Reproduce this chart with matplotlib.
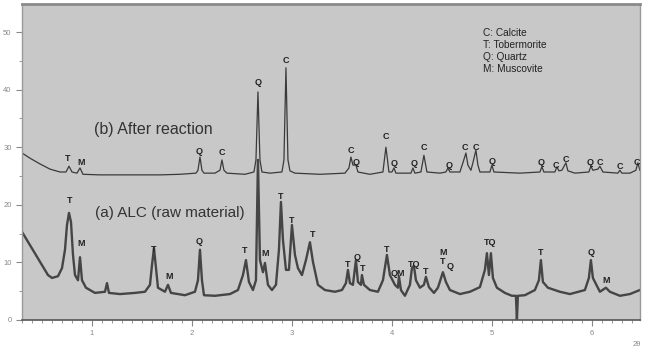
import matplotlib
matplotlib.use("Agg")
import matplotlib.pyplot as plt
from matplotlib.ticker import MultipleLocator

# ---- data ----
after_x = [0.30, 0.38, 0.48, 0.58, 0.68, 0.74, 0.77, 0.80, 0.85, 0.88, 0.91, 1.08, 1.38, 1.68, 1.88,
           2.04, 2.06, 2.08, 2.10, 2.12, 2.23, 2.28, 2.30, 2.32, 2.35, 2.53, 2.62, 2.64, 2.66, 2.68,
           2.70, 2.78, 2.90, 2.92, 2.94, 2.96, 2.98, 3.03, 3.28, 3.53, 3.57, 3.59, 3.61, 3.64, 3.66,
           3.78, 3.91, 3.93, 3.94, 3.95, 3.97, 4.00, 4.02, 4.04, 4.13, 4.19, 4.21, 4.23, 4.29, 4.32,
           4.35, 4.48, 4.54, 4.56, 4.58, 4.68, 4.71, 4.74, 4.76, 4.79, 4.81, 4.84, 4.86, 4.88, 4.98,
           5.00, 5.02, 5.28, 5.48, 5.50, 5.52, 5.63, 5.65, 5.67, 5.70, 5.74, 5.76, 5.83, 5.97, 5.99,
           6.01, 6.06, 6.08, 6.11, 6.26, 6.28, 6.30, 6.38, 6.44, 6.46, 6.48]
after_y = [29.0, 28.1, 27.1, 26.2, 25.7, 25.7, 26.7, 25.7, 25.5, 26.4, 25.3, 25.2, 25.2, 25.2, 25.3,
           25.5, 26.0, 28.3, 26.0, 25.5, 25.5, 26.0, 27.8, 26.0, 25.5, 25.3, 25.7, 27.8, 39.6, 27.8,
           25.7, 25.5, 25.7, 27.8, 43.8, 27.8, 25.9, 25.5, 25.3, 25.5, 26.4, 28.3, 26.9, 26.9, 25.7,
           25.3, 25.7, 28.6, 30.0, 28.6, 25.7, 25.7, 26.4, 25.5, 25.5, 25.5, 26.4, 25.5, 25.7, 28.6,
           25.7, 25.5, 25.7, 26.4, 25.7, 25.7, 27.3, 29.0, 26.9, 26.0, 27.3, 29.5, 26.9, 25.7, 25.7,
           26.9, 25.7, 25.5, 25.7, 26.6, 25.7, 25.7, 26.6, 25.9, 26.0, 27.3, 25.9, 25.5, 25.7, 26.7,
           26.0, 26.2, 26.7, 25.7, 25.5, 26.0, 25.5, 25.5, 26.0, 27.3, 26.0]

alc_x = [0.30, 0.38, 0.48, 0.56, 0.60, 0.66, 0.70, 0.73, 0.75, 0.77, 0.79, 0.81, 0.83, 0.86, 0.88,
         0.90, 0.94, 1.03, 1.13, 1.15, 1.17, 1.28, 1.43, 1.53, 1.58, 1.60, 1.62, 1.64, 1.66, 1.73,
         1.76, 1.79, 1.93, 2.03, 2.06, 2.08, 2.10, 2.12, 2.23, 2.38, 2.46, 2.51, 2.54, 2.57, 2.61,
         2.64, 2.66, 2.68, 2.71, 2.73, 2.76, 2.80, 2.84, 2.87, 2.89, 2.91, 2.94, 2.97, 3.00, 3.03,
         3.06, 3.10, 3.14, 3.18, 3.21, 3.26, 3.33, 3.43, 3.50, 3.54, 3.56, 3.58, 3.61, 3.64, 3.66,
         3.69, 3.70, 3.72, 3.78, 3.86, 3.91, 3.95, 3.98, 4.03, 4.06, 4.07, 4.09, 4.13, 4.18, 4.20,
         4.22, 4.24, 4.28, 4.32, 4.34, 4.37, 4.42, 4.46, 4.50, 4.51, 4.54, 4.58, 4.68, 4.78, 4.88,
         4.93, 4.95, 4.97, 4.99, 5.01, 5.05, 5.13, 5.20, 5.24, 5.25, 5.26, 5.33, 5.43, 5.47, 5.49,
         5.51, 5.56, 5.68, 5.78, 5.93, 5.97, 5.99, 6.01, 6.08, 6.14, 6.18, 6.28, 6.38, 6.48]
alc_y = [15.3, 13.0, 10.1, 7.8, 7.3, 7.6, 9.0, 12.2, 16.5, 18.6, 17.0, 11.3, 7.8, 6.9, 10.9,
         6.9, 5.6, 4.7, 4.9, 6.4, 4.7, 4.5, 4.7, 4.9, 6.1, 9.5, 12.5, 9.0, 5.6, 4.9,
         6.1, 4.7, 4.3, 4.9, 6.9, 12.2, 6.9, 4.3, 4.2, 4.5, 5.2, 7.8, 10.4, 6.6, 5.2,
         6.9, 27.8, 10.4, 8.3, 9.9, 6.1, 5.2, 6.1, 12.2, 20.5, 13.9, 8.7, 8.7, 16.5, 11.3,
         9.0, 7.8, 10.4, 13.5, 10.1, 6.1, 5.2, 4.9, 5.2, 6.4, 8.7, 6.4, 6.1, 10.4, 6.6,
         6.1, 7.8, 6.1, 5.2, 4.9, 6.9, 11.3, 7.8, 6.1, 5.6, 7.6, 5.2, 4.2, 6.1, 9.0,
         9.4, 6.9, 5.6, 6.1, 7.5, 5.7, 4.7, 5.6, 7.8, 8.3, 6.6, 5.2, 4.5, 4.9, 5.7,
         8.7, 11.6, 7.8, 11.6, 7.3, 5.6, 4.7, 4.2, 4.2, 0.0, 4.2, 4.3, 5.2, 6.9, 10.4,
         6.6, 5.6, 4.9, 4.5, 5.2, 7.3, 10.4, 7.3, 4.9, 5.6, 4.9, 4.2, 4.5, 5.2]

after_labels = ["T", "M", "Q", "C", "Q", "C", "C", "Q", "C", "Q", "Q", "C", "Q", "C", "C", "Q",
                "Q", "C", "C", "Q", "C", "C", "C"]
after_lab_x = [0.76, 0.89, 2.07, 2.30, 2.66, 2.94, 3.59, 3.64, 3.94, 4.02, 4.22, 4.32, 4.57, 4.73,
               4.84, 5.00, 5.49, 5.64, 5.74, 5.98, 6.08, 6.28, 6.45]
after_lab_y = [28.0, 27.3, 29.2, 29.0, 41.3, 45.1, 29.5, 27.4, 31.8, 27.1, 27.1, 29.9, 26.9, 30.0,
               30.0, 27.6, 27.3, 26.9, 27.8, 27.3, 27.3, 26.6, 27.3]

alc_labels = ["T", "M", "T", "M", "Q", "T", "M", "T", "T", "T", "T", "Q", "T", "T", "QM", "TQ",
              "T", "M", "T", "Q", "TQ", "T", "Q", "M"]
alc_lab_x = [0.78, 0.89, 1.62, 1.77, 2.07, 2.53, 2.73, 2.89, 3.00, 3.21, 3.56, 3.65, 3.71, 3.95,
             4.06, 4.22, 4.34, 4.51, 4.51, 4.58, 4.98, 5.49, 5.99, 6.14]
alc_lab_y = [20.7, 13.2, 12.2, 7.5, 13.7, 12.0, 11.6, 21.5, 17.2, 14.8, 9.7, 10.9, 8.9, 12.3,
             8.0, 9.7, 8.5, 11.8, 10.1, 9.2, 13.5, 11.8, 11.8, 6.9]

legend_lines = ["C: Calcite", "T: Tobermorite", "Q: Quartz", "M: Muscovite"]
x_ticks = [1, 2, 3, 4, 5, 6]
x_tick_labels = ["1", "2", "3", "4", "5", "6"]
y_ticks = [0, 10, 20, 30, 40, 50]
y_tick_labels = ["0", "10", "20", "30", "40", "50"]

# ---- figure ----
plt.rcParams['font.family'] = ['Liberation Sans', 'DejaVu Sans']
fig = plt.figure(figsize=(6.47, 3.52), dpi=100)
ax = fig.add_axes([0.034, 0.091, 0.955, 0.898])
ax.set_facecolor('#c8c8c8')

ax.plot(after_x, after_y, color='#3a3a3a', lw=0.9)
ax.plot(alc_x, alc_y, color='#2e2e2e', lw=1.7, alpha=0.85)

for s, x, y in zip(after_labels, after_lab_x, after_lab_y):
    ax.text(x, y, s, ha='center', va='center', fontsize=6.5, fontweight='bold', color='#222222')
for s, x, y in zip(alc_labels, alc_lab_x, alc_lab_y):
    ax.text(x, y, s, ha='center', va='center', fontsize=6.5, fontweight='bold', color='#222222')

ax.text(1.02, 33.0, "(b) After reaction", ha='left', va='center', fontsize=11.5, color='#333333')
ax.text(1.03, 18.6, "(a) ALC (raw material)", ha='left', va='center', fontsize=11, color='#333333')

for i, s in enumerate(legend_lines):
    ax.text(4.91, 49.8 - i * 2.07, s, ha='left', va='center', fontsize=7.3, color='#222222')

ax.set_xlim(0.3, 6.48)
ax.set_ylim(0, 54.9)
ax.set_xticks(x_ticks)
ax.set_xticklabels(x_tick_labels)
ax.set_yticks(y_ticks)
ax.set_yticklabels(y_tick_labels)
ax.xaxis.set_minor_locator(MultipleLocator(0.1))
ax.yaxis.set_minor_locator(MultipleLocator(5))
ax.tick_params(axis='both', which='major', labelsize=5.5, colors='#888888', length=4, width=0.8)
ax.tick_params(axis='both', which='minor', colors='#888888', length=2.5, width=0.6)

for side in ['left', 'right']:
    ax.spines[side].set_color('#9a9a9a')
    ax.spines[side].set_linewidth(1.0)
ax.spines['top'].set_color('#8a8a8a')
ax.spines['top'].set_linewidth(2.0)
ax.spines['bottom'].set_color('#555555')
ax.spines['bottom'].set_linewidth(1.2)

fig.text(0.985, 0.02, "2θ", ha='center', va='center', fontsize=5.5, color='#888888')

fig.savefig("out.png", dpi=100, facecolor='white')
